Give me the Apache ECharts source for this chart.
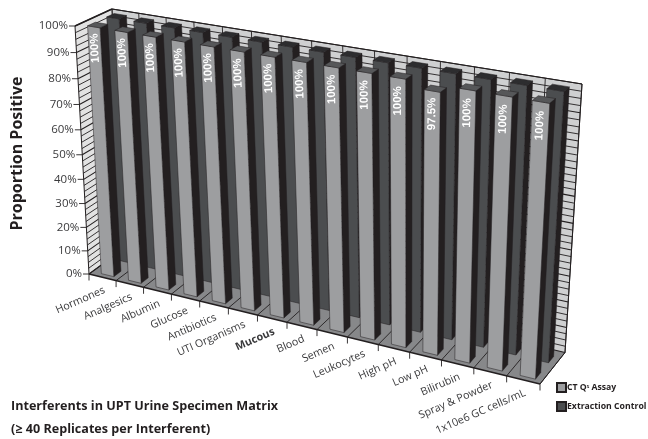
<!DOCTYPE html>
<html>
<head>
<meta charset="utf-8">
<style>html,body{margin:0;padding:0;background:#fff}#c{width:648px;height:439px}</style>
<script src="https://cdn.jsdelivr.net/npm/echarts@6/dist/echarts.min.js"></script>
</head>
<body>
<div id="c"></div>
<script>
// Chart content
const categories = ['Hormones','Analgesics','Albumin','Glucose','Antibiotics','UTI Organisms','Mucous','Blood','Semen','Leukocytes','High pH','Low pH','Bilirubin','Spray & Powder','1x10e6 GC cells/mL'];
const ctAssay = [100,100,100,100,100,100,100,100,100,100,100,97.5,100,100,100];
const extractionControl = [100,100,100,100,100,100,100,100,100,100,100,100,100,100,100];
const valueTicks = [0,10,20,30,40,50,60,70,80,90,100];
const hatchStep = 2.5;

// Perspective box: corners of the floor and ceiling planes
const FLOOR = [[89,274],[540,384],[565,352.5],[123.6,248.7]];
const CEIL  = [[75,26],[555,107],[582,84],[112,9]];
const PERSPECTIVE_K = 1.08;

function squareToQuad(q){
  const [[x0,y0],[x1,y1],[x2,y2],[x3,y3]] = q;
  const dx1=x1-x2, dx2=x3-x2, sx=x0-x1+x2-x3, dy1=y1-y2, dy2=y3-y2, sy=y0-y1+y2-y3;
  const den=dx1*dy2-dx2*dy1;
  const g=(sx*dy2-dx2*sy)/den, h=(dx1*sy-sx*dy1)/den;
  const a=x1-x0+g*x1, b=x3-x0+h*x3, d=y1-y0+g*y1, e=y3-y0+h*y3;
  return (u,v)=>{const w=g*u+h*v+1;return [(a*u+b*v+x0)/w,(d*u+e*v+y0)/w];};
}
const floorMap = squareToQuad(FLOOR), ceilMap = squareToQuad(CEIL);
const lerp=(a,b,k)=>[a[0]+(b[0]-a[0])*k,a[1]+(b[1]-a[1])*k];

// Maps normalised category position, normalised height and depth to the page
function project(u, t, z){
  const f=lerp(floorMap(u,0),floorMap(u,1),z), c=lerp(ceilMap(u,0),ceilMap(u,1),z);
  return lerp(f,c,t/(t+(1-t)*PERSPECTIVE_K));
}

// Reads the hidden cartesian grid so marks go through the library's scales
function scaled(params, api, catPos, value){
  const r=params.coordSys, p=api.coord([catPos,value]);
  const step=api.size([1,0])[0];
  return {u:(p[0]-r.x)/r.width, t:1-(p[1]-r.y)/r.height, du:step/r.width};
}

const poly=(pts,fill,stroke,lw)=>({type:'polygon',shape:{points:pts},style:{fill,stroke:stroke||null,lineWidth:lw||0}});
const line=(a,b,lw,col)=>({type:'line',shape:{x1:a[0],y1:a[1],x2:b[0],y2:b[1]},style:{stroke:col||'#231f20',lineWidth:lw}});

function barItem(colors, z0, z1, showLabel){
  return function(params, api){
    const i=api.value(0), v=api.value(1);
    const s=scaled(params,api,i,v);
    const base=scaled(params,api,i,0);
    const c=s.u+s.du*0.06, hw=s.du*0.23, uL=c-hw, uR=c+hw;
    const fl=project(uL,base.t,z0), fr=project(uR,base.t,z0), br=project(uR,base.t,z1);
    const tl=project(uL,s.t,z0), tr=project(uR,s.t,z0), tbr=project(uR,s.t,z1), tbl=project(uL,s.t,z1);
    const kids=[
      poly([fr,br,tbr,tr],colors.side,'#231f20',0.5),
      poly([fl,fr,tr,tl],colors.face,'#231f20',0.5),
      poly([tl,tr,tbr,tbl],colors.cap,'#231f20',0.5),
    ];
    if(showLabel){
      const lt=scaled(params,api,i,v-8);
      const a=project(c,lt.t,z0), b=project(c,s.t,z0);
      kids.push({type:'text',x:a[0],y:a[1],rotation:Math.atan2(a[1]-b[1],b[0]-a[0]),
        style:{text:api.value(2),fill:'#fff',align:'center',verticalAlign:'middle',font:'bold 11.5px "Liberation Sans"'}});
    }
    return {type:'group',children:kids};
  };
}

// Walls, floor, gridlines, ticks and axis labels
function frameItem(params, api){
  const n=categories.length, kids=[];
  const at=v=>scaled(params,api,0,v).t;
  const t0=at(0), t1=at(100);
  kids.push(poly([project(0,t0,0),project(0,t0,1),project(0,t1,1),project(0,t1,0)],'#e2e2e2'));
  kids.push(poly([project(0,t0,1),project(1,t0,1),project(1,t1,1),project(0,t1,1)],'#cfd0d1'));
  kids.push(poly([project(0,t0,0),project(1,t0,0),project(1,t0,1),project(0,t0,1)],'#87888a'));
  for(let v=0;v<=100;v+=hatchStep){
    const t=at(v), major=valueTicks.indexOf(v)>=0;
    kids.push(line(project(0,t,0),project(0,t,1),major?1.1:0.9));
    kids.push(line(project(0,t,1),project(1,t,1),major?1.1:0.9));
  }
  for(let b=0;b<=n;b++){
    const uu=b/n;
    kids.push(line(project(uu,t0,0),project(uu,t0,1),0.9));
    kids.push(line(project(uu,t0,1),project(uu,t1,1),0.9));
    const p=project(uu,t0,0);
    kids.push(line(p,[p[0],p[1]+6.5],0.9));
  }
  kids.push(line(project(0,t0,0),project(1,t0,0),1.6));
  kids.push(line(project(0,t0,0),project(0,t1,0),1));
  kids.push(line(project(0,t1,0),project(0,t1,1),1.4));
  kids.push(line(project(0,t1,1),project(1,t1,1),1));
  kids.push(line(project(1,t0,1),project(1,t1,1),1));
  kids.push(line(project(0,t0,1),project(0,t1,1),0.8));
  kids.push(line(project(1,t0,0),project(1,t0,1),1));
  valueTicks.forEach(v=>{
    const p=project(0,at(v),0);
    kids.push(line([p[0]-6,p[1]],p,0.9));
    kids.push({type:'text',x:p[0]-7,y:p[1],style:{text:v+'%',fill:'#3a3a3c',align:'right',verticalAlign:'middle',font:'11.5px "Open Sans"'}});
  });
  categories.forEach((name,i)=>{
    const p=project((i+.5)/n,t0,0);
    kids.push({type:'text',x:p[0]+2,y:p[1]+12.5,rotation:23.5*Math.PI/180,originX:0,originY:0,
      style:{text:name,fill:'#3a3a3c',align:'right',verticalAlign:'middle',
        font:(name==='Mucous'?'bold ':'')+'10.7px "Open Sans"'}});
  });
  return {type:'group',children:kids};
}

const chart=echarts.init(document.getElementById('c'),null,{renderer:'canvas'});
chart.setOption({
  animation:false,
  backgroundColor:'#fff',
  grid:{left:0,top:0,width:600,height:400},
  xAxis:{type:'category',data:categories,show:false},
  yAxis:{type:'value',min:0,max:100,show:false},
  legend:{show:true,orient:'vertical',left:556,top:382,itemWidth:9,itemHeight:9,itemGap:8,padding:0,
    data:['CT Qˣ Assay','Extraction Control'],
    textStyle:{fontFamily:'Open Sans',fontWeight:'bold',fontSize:8.7,color:'#231f20',padding:[0,0,0,-4]},
    icon:'rect',selectedMode:false},
  graphic:[
    {type:'text',x:17,y:153.5,rotation:Math.PI/2,
      style:{text:'Proportion Positive',fill:'#231f20',align:'center',verticalAlign:'middle',font:'bold 16px "Open Sans"'}},
    {type:'text',x:11,y:406,style:{text:'Interferents in UPT Urine Specimen Matrix',fill:'#231f20',verticalAlign:'middle',font:'bold 12.6px "Open Sans"'}},
    {type:'text',x:11,y:429,style:{text:'(≥ 40 Replicates per Interferent)',fill:'#231f20',verticalAlign:'middle',font:'bold 12.6px "Open Sans"'}}
  ],
  series:[
    {name:'frame',type:'custom',coordinateSystem:'cartesian2d',data:[[0,0]],renderItem:frameItem,silent:true,z:1},
    {name:'Extraction Control',type:'custom',coordinateSystem:'cartesian2d',z:2,silent:true,
      itemStyle:{color:'#4b4d4f',borderColor:'#231f20',borderWidth:0.8},
      encode:{x:0,y:1},
      data:extractionControl.map((v,i)=>[i,v]),
      renderItem:barItem({face:'#4b4d4f',side:'#231f20',cap:'#2d2d2f'},0.62,0.82,false)},
    {name:'CT Qˣ Assay',type:'custom',coordinateSystem:'cartesian2d',z:3,silent:true,
      itemStyle:{color:'#9d9ea0',borderColor:'#231f20',borderWidth:0.8},
      encode:{x:0,y:1},
      data:ctAssay.map((v,i)=>[i,v,v+'%']),
      renderItem:barItem({face:'#9d9ea0',side:'#231f20',cap:'#565759'},0.1,0.31,true)}
  ]
});
</script>
</body>
</html>
